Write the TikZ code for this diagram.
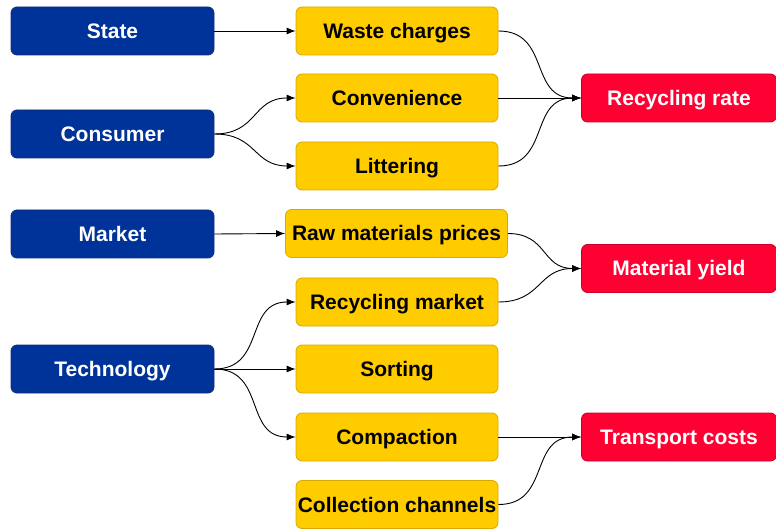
\documentclass[tikz,border=0pt]{standalone}
\usepackage{fontspec}
\setmainfont{Liberation Sans}
\usetikzlibrary{arrows.meta}
\definecolor{cblue}{RGB}{0,51,153}
\definecolor{cblueb}{RGB}{20,45,120}
\definecolor{cyel}{RGB}{255,204,0}
\definecolor{cyelb}{RGB}{215,170,0}
\definecolor{cred}{RGB}{255,0,51}
\definecolor{credb}{RGB}{200,0,40}
\tikzset{
  box/.style={rectangle, rounded corners=6pt, minimum height=48pt, inner sep=0pt,
    text height=15pt, text depth=0pt,
    font=\fontsize{21}{25}\selectfont\bfseries, line width=0.8pt},
  bluebox/.style={box, fill=cblue, draw=cblueb, text=white, minimum width=203pt},
  yelbox/.style={box, fill=cyel, draw=cyelb, text=black, minimum width=202pt},
  redbox/.style={box, fill=cred, draw=credb, text=white, minimum width=195pt},
  link/.style={-{Latex[length=9pt,width=7pt]}, line width=0.9pt, black},
  curvy/.style={link, out=0, in=180, looseness=1.25}
}
\begin{document}
\begin{tikzpicture}[x=1pt,y=-1pt]
\useasboundingbox (0,0) rectangle (776,529);
% sources
\node[bluebox] (state) at (112.5,31) {State};
\node[bluebox] (consumer) at (112.5,134) {Consumer};
\node[bluebox] (market) at (112.5,234) {Market};
\node[bluebox] (tech) at (112.5,369) {Technology};
% middle
\node[yelbox] (waste) at (397,31) {Waste charges};
\node[yelbox] (conv) at (397,98) {Convenience};
\node[yelbox] (litter) at (397,166) {Littering};
\node[yelbox, minimum width=222pt] (raw) at (396.5,233.5) {Raw materials prices};
\node[yelbox] (recmarket) at (397,302) {Recycling market};
\node[yelbox] (sorting) at (397,369) {Sorting};
\node[yelbox] (compaction) at (397,437) {Compaction};
\node[yelbox] (collection) at (397,504.5) {Collection channels};
% targets
\node[redbox] (rate) at (679,98) {Recycling rate};
\node[redbox] (yield) at (679,268.5) {Material yield};
\node[redbox] (transport) at (679,437) {Transport costs};
% links left
\draw[link] (state.east) -- (waste.west);
\draw[curvy] (consumer.east) to (conv.west);
\draw[curvy] (consumer.east) to (litter.west);
\draw[link] (market.east) -- (raw.west);
\draw[curvy] (tech.east) to (recmarket.west);
\draw[link] (tech.east) -- (sorting.west);
\draw[curvy] (tech.east) to (compaction.west);
% links right
\draw[curvy] (waste.east) to (rate.west);
\draw[link] (conv.east) -- (rate.west);
\draw[curvy] (litter.east) to (rate.west);
\draw[curvy] (raw.east) to (yield.west);
\draw[curvy] (recmarket.east) to (yield.west);
\draw[link] (compaction.east) -- (transport.west);
\draw[curvy] (collection.east) to (transport.west);
\end{tikzpicture}
\end{document}
